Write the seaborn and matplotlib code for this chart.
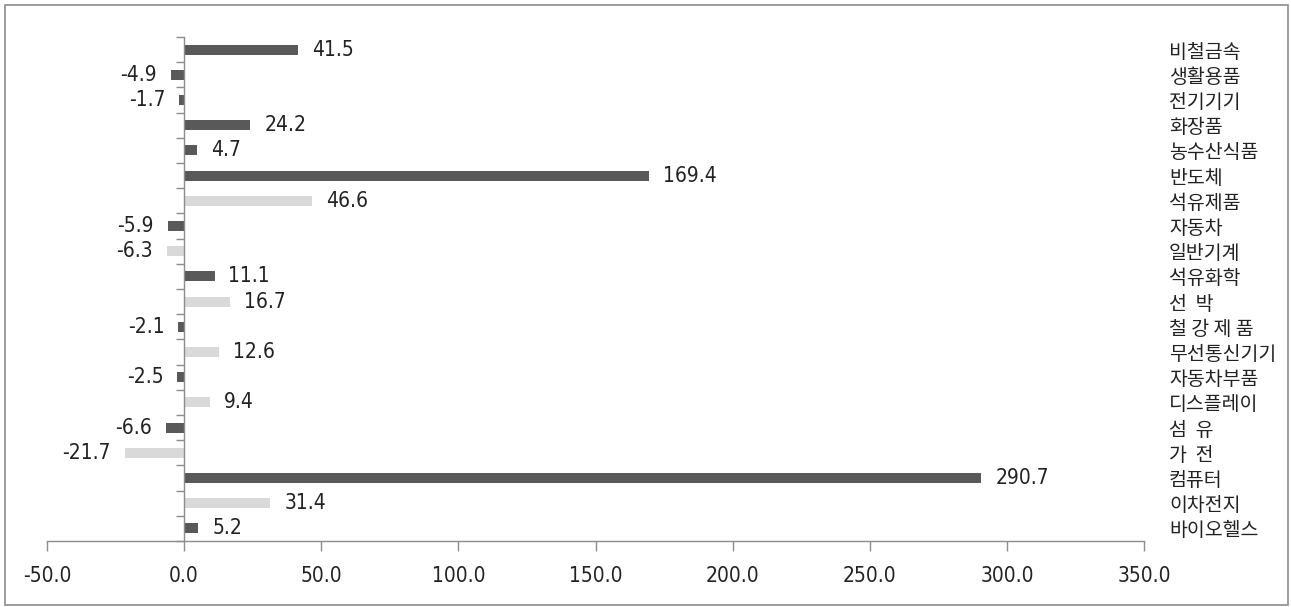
import matplotlib
matplotlib.use("Agg")
import matplotlib.pyplot as plt
import seaborn as sns
import pandas as pd
import numpy as np
from matplotlib import font_manager
from matplotlib.patches import Rectangle
from matplotlib.ticker import FixedLocator, FuncFormatter

categories = ["비철금속", "생활용품", "전기기기", "화장품", "농수산식품", "반도체", "석유제품",
              "자동차", "일반기계", "석유화학", "선  박", "철 강 제 품", "무선통신기기",
              "자동차부품", "디스플레이", "섬  유", "가  전", "컴퓨터", "이차전지", "바이오헬스"]
values = [41.5, -4.9, -1.7, 24.2, 4.7, 169.4, 46.6, -5.9, -6.3, 11.1, 16.7, -2.1, 12.6,
          -2.5, 9.4, -6.6, -21.7, 290.7, 31.4, 5.2]
shade = ["dark", "dark", "dark", "dark", "dark", "dark", "light", "dark", "light", "dark",
         "light", "dark", "light", "dark", "light", "dark", "light", "dark", "light", "dark"]
x_ticks = [-50, 0, 50, 100, 150, 200, 250, 300, 350]

DARK = "#595959"
LIGHT = "#d9d9d9"

sns.set_theme(style="white")

# pick a narrow face for numbers if one is installed
fl = font_manager.fontManager.ttflist
num_fp = None
for f in fl:
    if f.name == "Liberation Sans Narrow" and f.weight in (400, "normal", "regular"):
        num_fp = font_manager.FontProperties(fname=f.fname)
        break
if num_fp is None:
    for f in fl:
        if f.name == "DejaVu Sans" and str(f.stretch) in ("condensed", "semi-condensed") \
                and f.style == "normal" and f.weight in (400, "normal", "regular"):
            num_fp = font_manager.FontProperties(fname=f.fname)
            break
if num_fp is None:
    num_fp = font_manager.FontProperties(family="Liberation Sans")
num_fp.set_size(15)

plt.rcParams["font.family"] = ["Noto Sans CJK KR", "DejaVu Sans"]

df = pd.DataFrame({"cat": categories, "val": values})
palette = {c: (DARK if s == "dark" else LIGHT) for c, s in zip(categories, shade)}

fig = plt.figure(figsize=(12.91, 6.07), dpi=100)
ax = fig.add_axes([47 / 1291, 66 / 607, (1144 - 47) / 1291, (541 - 37) / 607])

sns.barplot(data=df, x="val", y="cat", hue="cat", palette=palette, legend=False,
            orient="h", width=0.4, ax=ax, saturation=1, linewidth=0)

ax.set_xlim(-50, 350)
ax.set_ylim(len(categories) - 0.5, -0.5)
ax.set_xlabel("")
ax.set_ylabel("")

for s in ["top", "right"]:
    ax.spines[s].set_visible(False)
ax.spines["left"].set_position(("data", 0))
for s in ["left", "bottom"]:
    ax.spines[s].set_color("#8c8c8c")
    ax.spines[s].set_linewidth(1.0)

ax.xaxis.set_major_locator(FixedLocator(x_ticks))
ax.xaxis.set_major_formatter(FuncFormatter(lambda v, p: f"{v:.1f}"))
ax.tick_params(axis="x", direction="out", length=7, width=1, color="#8c8c8c",
               pad=11, labelcolor="#222222", bottom=True)
for lab in ax.get_xticklabels():
    lab.set_fontproperties(num_fp)

# category labels on the right, boundary ticks on the left spine
ax.yaxis.set_major_locator(FixedLocator(np.arange(len(categories))))
ax.yaxis.set_minor_locator(FixedLocator(np.arange(len(categories) + 1) - 0.5))
ax.tick_params(axis="y", which="major", left=False, right=True, length=0,
               labelleft=False, labelright=True, pad=18)
ax.tick_params(axis="y", which="minor", left=True, right=False, direction="out",
               length=6, width=1, color="#8c8c8c")
for lab in ax.get_yticklabels():
    lab.set_fontfamily(["Noto Sans CJK KR", "DejaVu Sans"])
    lab.set_fontsize(14)
    lab.set_color("#222222")

for cont in ax.containers:
    texts = ax.bar_label(cont, fmt="%.1f", padding=10, color="#222222")
    for t in texts:
        t.set_fontproperties(num_fp)

ax.grid(False)
fig.patches.append(Rectangle((5 / 1291, 2 / 607), 1283 / 1291, 600 / 607,
                             transform=fig.transFigure, fill=False,
                             edgecolor="#8c8c8c", linewidth=1.2))

fig.savefig("out.png", dpi=100)
